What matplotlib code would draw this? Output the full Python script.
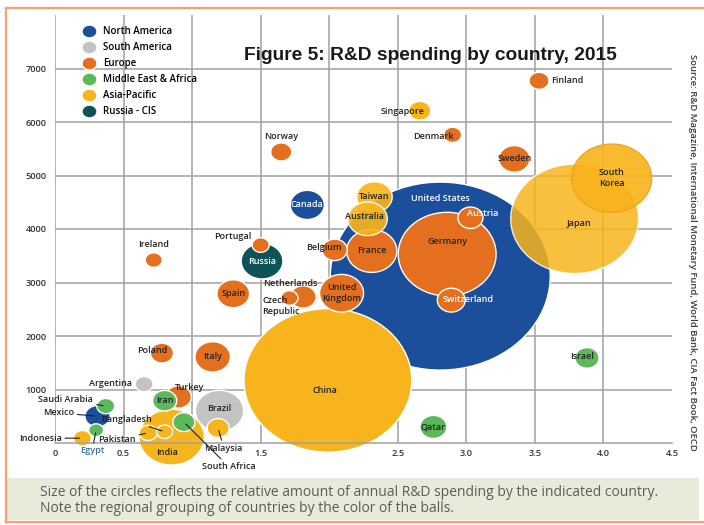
import numpy as np
import matplotlib
matplotlib.use("Agg")
import matplotlib.pyplot as plt
from matplotlib.path import Path
from matplotlib.lines import Line2D
from matplotlib.patches import Rectangle

TITLE = "Figure 5: R&D spending by country, 2015"
CAPTION = ["Size of the circles reflects the relative amount of annual R&D spending by the indicated country.",
           "Note the regional grouping of countries by the color of the balls."]
SOURCE = "Source: R&D Magazine, International Monetary Fund, World Bank, CIA Fact Book, OECD"

REGIONS = ["North America", "South America", "Europe", "Middle East & Africa", "Asia-Pacific", "Russia - CIS"]
REGION_COLORS = ["#1b4e9b", "#c3c3c3", "#e4701f", "#5cb85b", "#f8b41c", "#0d5358"]

# paint order = list order (big ones first, a few swapped so overlaps look like the original)
countries = ["United States", "China", "Japan", "Germany", "South Korea", "India", "France", "Brazil",
             "United Kingdom", "Russia", "Taiwan", "Australia", "Italy", "Canada", "Spain", "Sweden",
             "Switzerland", "Qatar", "Netherlands", "Turkey", "Belgium", "Austria", "Mexico", "Iran",
             "Israel", "Poland", "Singapore", "Malaysia", "South Africa", "Norway", "Finland", "Denmark",
             "Argentina", "Saudi Arabia", "Pakistan", "Indonesia", "Ireland", "Portugal", "Czech Republic",
             "Bangladesh", "Egypt"]
region = [0, 4, 4, 2, 4, 4, 2, 1,
          2, 5, 4, 4, 2, 0, 2, 2,
          2, 3, 2, 2, 2, 2, 0, 3,
          3, 2, 4, 4, 3, 2, 2, 2,
          1, 3, 4, 4, 2, 2, 2,
          4, 3]
# x: R&D as % of GDP, y: scientists & engineers per million people, size: relative R&D spend
rd_gdp = [2.81, 1.99, 3.79, 2.86, 4.06, 0.85, 2.31, 1.20,
          2.09, 1.51, 2.33, 2.28, 1.15, 1.84, 1.30, 3.35,
          2.89, 2.76, 1.81, 0.90, 2.04, 3.03, 0.31, 0.80,
          3.88, 0.78, 2.66, 1.19, 0.94, 1.65, 3.53, 2.90,
          0.65, 0.37, 0.68, 0.20, 0.72, 1.50, 1.71,
          0.80, 0.30]
sci_per_m = [3120, 1170, 4190, 3530, 4950, 110, 3590, 600,
             2800, 3400, 4600, 4190, 1610, 4450, 2790, 5310,
             2670, 300, 2730, 860, 3610, 4210, 500, 790,
             1590, 1680, 6210, 280, 390, 5440, 6770, 5760,
             1100, 690, 190, 90, 3420, 3700, 2710,
             210, 240]
spend = [500, 291, 169, 99, 66, 44, 26, 24,
         20, 18, 13, 16, 13, 12, 11, 10,
         8, 7.5, 7, 7, 6.5, 6.5, 6.5, 6,
         6, 5.5, 5, 5, 5, 4.6, 4.1, 3.3,
         3.3, 3.3, 3.3, 3.3, 3, 3, 3,
         2.6, 2.3]

X_TICKS = [0, 0.5, 1.0, 1.5, 2.0, 2.5, 3.0, 3.5, 4.0, 4.5]
X_TICKLABELS = ["0", "0.5", "", "1.5", "", "2.5", "3.0", "3.5", "4.0", "4.5"]
Y_TICKS = [1000, 2000, 3000, 4000, 5000, 6000, 7000]

# label placement: offset in points from bubble centre, alignment, colour, leader line
LABEL_TEXT = {"United Kingdom": "United\nKingdom", "South Korea": "South\nKorea",
              "Czech Republic": "Czech\nRepublic"}
WHITE = "#ffffff"
INK = "#222222"
LABEL_LAYOUT = {
    "United States": (0, 56, "center", WHITE, False),
    "Canada": (0, 0, "center", WHITE, False),
    "Russia": (0, 0, "center", WHITE, False),
    "Austria": (9, 3, "center", WHITE, False),
    "Switzerland": (12, 0.5, "center", WHITE, False),
    "Germany": (0, 9, "center", INK, False),
    "Japan": (3, -3, "center", INK, False),
    "China": (-2, -7, "center", INK, False),
    "India": (-3, -11, "center", INK, False),
    "Ireland": (0, 11, "center", INK, False),
    "Norway": (0, 11, "center", INK, False),
    "Portugal": (-20, 6, "center", INK, False),
    "Netherlands": (-9, 10, "center", INK, False),
    "Czech Republic": (-19.5, -6, "left", INK, False),
    "Belgium": (-8, 1.5, "center", INK, False),
    "Denmark": (1, -1.5, "right", INK, False),
    "Singapore": (3.5, -0.7, "right", INK, False),
    "Finland": (8.5, 0, "left", INK, False),
    "Israel": (-3.5, 0.7, "center", INK, False),
    "Poland": (-7, 2, "center", INK, False),
    "Argentina": (-8.5, 0.7, "right", INK, False),
    "Turkey": (8, 6.5, "center", INK, False),
    "Brazil": (0, 2, "center", INK, False),
    "Australia": (-2, 1.5, "center", INK, False),
    "Saudi Arabia": (-9, 4.5, "right", INK, True),
    "Mexico": (-17, 2.5, "right", INK, True),
    "Indonesia": (-15, 0, "right", INK, True),
    "Egypt": (-3, -15, "center", "#3a6db0", True),
    "Bangladesh": (-9, 9, "right", INK, True),
    "Pakistan": (-9, -5, "right", INK, True),
    "South Africa": (13, -32, "left", INK, True),
    "Malaysia": (4, -14.5, "center", INK, True),
}

DPI = 100
PX_PER_SQRT = 9.84  # bubble width in px per sqrt(spend)
ASPECT = 1.17       # the original bubbles are slightly wider than tall

t = np.linspace(0, 2 * np.pi, 80)
ellipse = Path(np.column_stack([ASPECT * np.cos(t), np.sin(t)]), closed=True)

fig = plt.figure(figsize=(7.04, 5.25), dpi=DPI)
ax = fig.add_axes([55 / 704, 82 / 525, 617 / 704, 428 / 525])
ax.set_xlim(0, 4.5)
ax.set_ylim(0, 8000)

grid_kw = dict(color="#a0a0a0", linewidth=1.1)
ax.set_xticks(X_TICKS, X_TICKLABELS)
ax.set_yticks(Y_TICKS, [str(v) for v in Y_TICKS])
ax.grid(True, **grid_kw)
ax.get_xgridlines()[-1].set_visible(False)
ax.set_axisbelow(True)
for side in ("top", "right", "left"):
    ax.spines[side].set_visible(False)
ax.spines["bottom"].set_color(grid_kw["color"])
ax.spines["bottom"].set_linewidth(grid_kw["linewidth"])
ax.tick_params(length=0, labelsize=6.7, labelcolor="#333333")
ax.tick_params(axis="y", pad=6)
ax.tick_params(axis="x", pad=4)
for lab in ax.get_xticklabels() + ax.get_yticklabels():
    lab.set_fontfamily("Open Sans")
    lab.set_fontweight("semibold")

sizes = [(PX_PER_SQRT * np.sqrt(v) * 72 / DPI) ** 2 for v in spend]
faces = [REGION_COLORS[r] for r in region]
edges = ["#eea01c" if c == "South Korea" else "white" for c in countries]
alphas = [0.85 if c == "Japan" else 0.92 if c in ("South Korea", "Taiwan", "Australia") else 1.0
          for c in countries]
ax.scatter(rd_gdp, sci_per_m, s=sizes, c=faces, edgecolors=edges, linewidths=1.0,
           marker=ellipse, alpha=alphas, clip_on=False, zorder=2)

for name, x, y in zip(countries, rd_gdp, sci_per_m):
    dx, dy, ha, col, leader = LABEL_LAYOUT.get(name, (0, 0, "center", INK, False))
    arrow = dict(arrowstyle="-", color=INK, lw=0.8, shrinkA=0.5, shrinkB=2) if leader else None
    ax.annotate(LABEL_TEXT.get(name, name), xy=(x, y), xytext=(dx, dy), textcoords="offset points",
                ha=ha, va="center", fontsize=6.5, color=col, family="Open Sans", fontweight="semibold",
                linespacing=1.3, arrowprops=arrow, zorder=3, annotation_clip=False)

handles = [Line2D([], [], marker=ellipse, markersize=10.8, linestyle="none",
                  markerfacecolor=c, markeredgecolor="white") for c in REGION_COLORS]
ax.legend(handles, REGIONS, loc="upper left", bbox_to_anchor=(82 / 704, 1 - 26 / 525),
          bbox_transform=fig.transFigure, frameon=False, borderpad=0, borderaxespad=0,
          handlelength=1.4, handletextpad=0.8, labelspacing=0.52,
          prop={"family": "Open Sans", "weight": "semibold", "size": 7.0})

fig.text(430 / 704, 1 - 55 / 525, TITLE, ha="center", va="center", fontsize=13.8,
         fontweight="bold", family="Liberation Sans", color="#1a1a1a")
fig.text(693 / 704, 1 - 252 / 525, SOURCE, rotation=270, ha="center", va="center",
         fontsize=6.8, family="Open Sans", fontweight="semibold", color="#3a3a3a")

# caption box and orange frame
fig.patches.append(Rectangle((6 / 704, 5 / 525), 693 / 704, 42 / 525, transform=fig.transFigure,
                             facecolor="#e6ebda", edgecolor="none", zorder=0))
for i, line in enumerate(CAPTION):
    fig.text(40 / 704, 1 - (492 + 16 * i) / 525, line, ha="left", va="center", fontsize=10,
             family="Open Sans", color="#5c5c5c")
frame_kw = dict(color="#f2a272", linewidth=1.6, transform=fig.transFigure)
fig.lines.append(Line2D([6 / 704, 1], [1 - 8 / 525, 1 - 8 / 525], **frame_kw))
fig.lines.append(Line2D([6 / 704, 6 / 704], [1 - 8 / 525, 1 - 522 / 525], **frame_kw))
fig.lines.append(Line2D([6 / 704, 1], [1 - 522 / 525, 1 - 522 / 525], **frame_kw))

fig.savefig("out.png", dpi=DPI)
